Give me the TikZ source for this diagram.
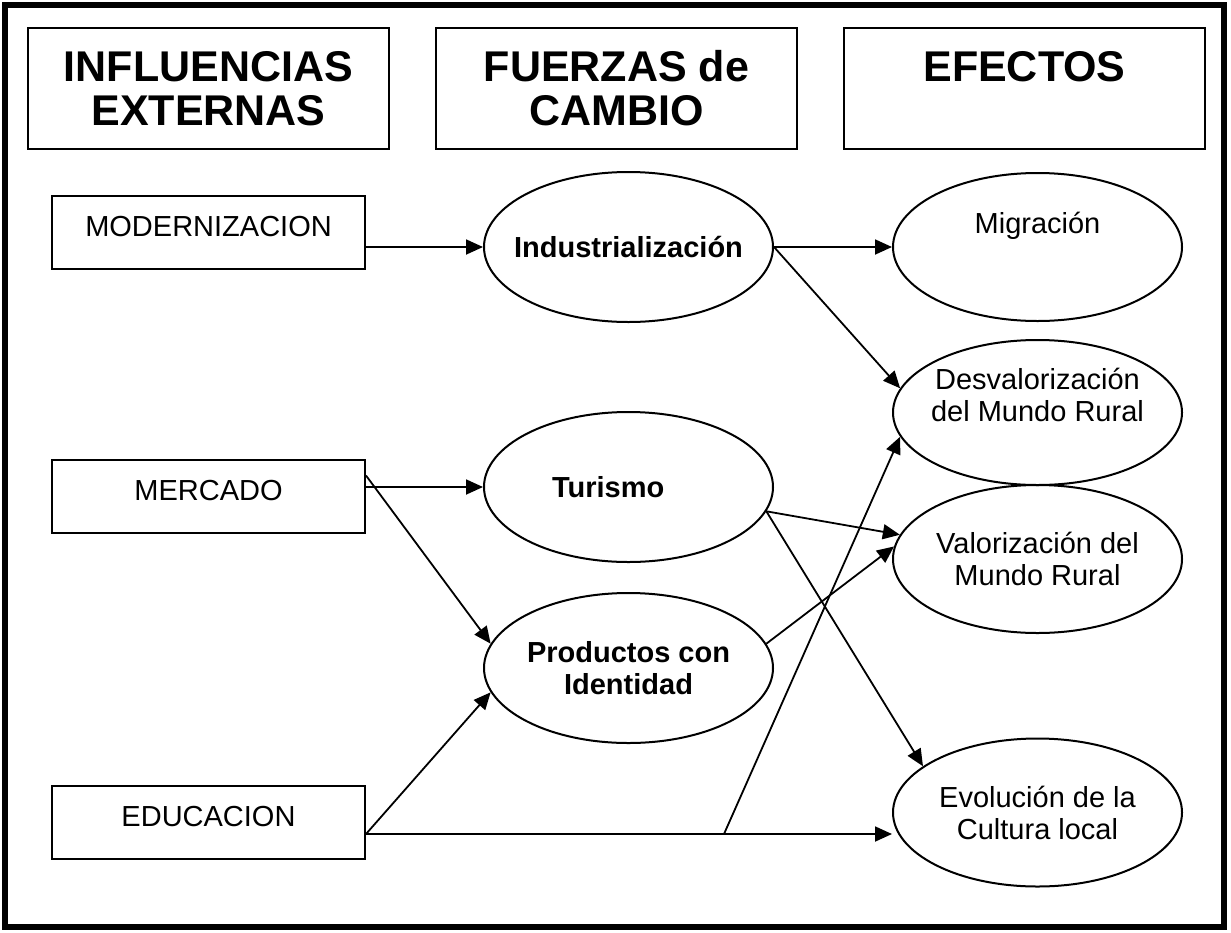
\documentclass[tikz,border=0pt]{standalone}
\usepackage{fontspec}
\setmainfont{Liberation Sans}
\usetikzlibrary{shapes.geometric,arrows.meta}

\begin{document}
\begin{tikzpicture}[
  x=1pt, y=-1pt,
  cabecera/.style={draw,line width=2pt,minimum width=361pt,minimum height=121pt,
    align=center,font=\fontsize{43}{44}\selectfont\bfseries},
  factor/.style={draw,line width=2pt,minimum width=313pt,minimum height=73pt,
    text height=21pt,text depth=14pt,font=\fontsize{29}{32}\selectfont},
  fuerza/.style={ellipse,draw,line width=2pt,minimum width=289pt,minimum height=150pt,
    inner xsep=-16pt,align=center,font=\fontsize{29}{32}\selectfont\bfseries},
  efecto/.style={fuerza,minimum height=148pt,font=\fontsize{29}{32}\selectfont},
  flecha/.style={line width=1.8pt,->},
  >={Triangle[length=17pt,width=15pt]}
]
  \useasboundingbox (0,0) rectangle (1231,932);
  \draw[line width=6pt] (5,4.5) rectangle (1224,926.5);

  % titulos de columna
  \node[cabecera] (influ) at (208.5,88.5)  {INFLUENCIAS\\EXTERNAS};
  \node[cabecera] (fuerz) at (616.5,88.5)  {FUERZAS de\\CAMBIO};
  \node[cabecera] (efect) at (1024.5,88.5) {EFECTOS\\\mbox{}};

  % influencias externas
  \node[factor] (modern)  at (208.5,232.5) {MODERNIZACION};
  \node[factor] (mercado) at (208.5,496.5) {MERCADO};
  \node[factor] (edu)     at (208.5,822.5) {EDUCACION};

  % fuerzas de cambio
  \node[fuerza] (indus)     at (628.5,247) {Industrialización};
  \node[fuerza,text width=153pt,align=left] (turismo) at (628.5,487) {Turismo};
  \node[fuerza] (productos) at (628.5,668) {Productos con\\Identidad};

  % efectos
  \node[efecto,text height=21pt,text depth=48pt] (migr) at (1037.5,247) {Migración};
  \node[efecto,minimum height=145pt] (desval) at (1037.5,412.5) {Desvalorización\\del Mundo Rural\\[4pt]\mbox{}};
  \node[efecto] (valor) at (1037.5,559)   {Valorización del\\Mundo Rural};
  \node[efecto] (evol)  at (1037.5,812.5) {Evolución de la\\Cultura local};

  \coordinate (eduout) at ([yshift=-11.5pt]edu.east);
  \coordinate (cruce)  at (724,834);

  \draw[flecha] (modern.east |- indus.west) -- (indus.west);
  \draw[flecha] (indus.east) -- (migr.west);
  \draw[flecha] (indus.east) -- (desval.170);

  \draw[flecha] (mercado.east |- turismo.west) -- (turismo.west);
  \draw[flecha] ([yshift=21pt]mercado.east) -- (productos.170);

  \draw[flecha] (eduout) -- (productos.190);
  \draw[flecha] (eduout) -- (eduout -| evol.west);
  \draw[flecha] (cruce) -- (desval.190);

  \draw[flecha] (turismo.-10) -- (valor.170);
  \draw[flecha] (turismo.-10) -- (evol.158);
  \draw[flecha] (productos.10) -- (valor.175);
\end{tikzpicture}
\end{document}
